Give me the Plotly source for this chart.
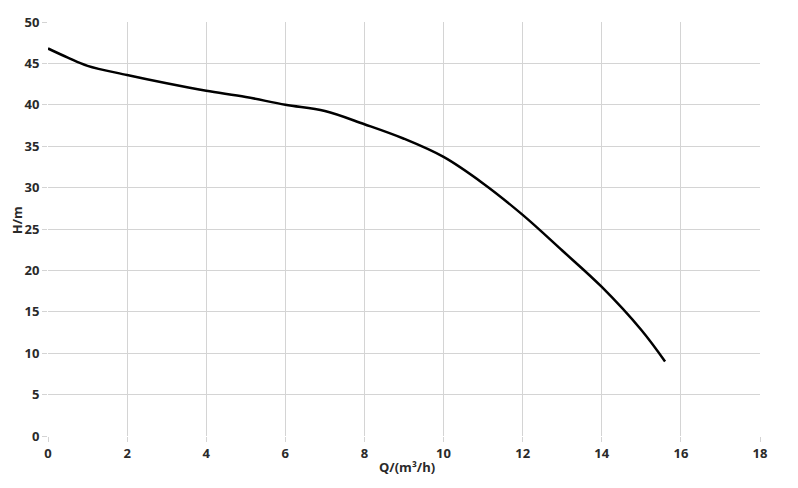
import plotly.graph_objects as go

q = [0, 0.5, 1, 2, 3, 4, 5, 6, 7, 8, 9, 10, 11, 12, 13, 14, 15, 15.6]
h = [46.8, 45.7, 44.7, 43.6, 42.6, 41.7, 40.95, 40.0, 39.25, 37.65, 35.9, 33.7, 30.5, 26.7, 22.4, 18.0, 12.8, 9.0]

x_ticks = [0, 2, 4, 6, 8, 10, 12, 14, 16, 18]
y_ticks = [0, 5, 10, 15, 20, 25, 30, 35, 40, 45, 50]

grid = "#d4d4d4"
font_col = "#2a2a2a"
ff = "Open Sans, Arial, sans-serif"

fig = go.Figure()
fig.add_trace(go.Scatter(x=q, y=h, mode="lines",
                         line=dict(color="black", width=2.5, shape="spline", smoothing=1.0),
                         showlegend=False, hoverinfo="skip"))

fig.update_layout(
    width=798, height=488,
    margin=dict(l=40, r=46, t=14, b=60, autoexpand=False),
    paper_bgcolor="white", plot_bgcolor="white",
    font=dict(family=ff, size=12, color=font_col),
)
fig.update_xaxes(
    range=[0, 18], tickvals=x_ticks, ticktext=[str(v) for v in x_ticks],
    showgrid=True, gridcolor=grid, gridwidth=1,
    ticks="outside", ticklen=5, tickcolor=grid, tickwidth=1,
    showline=False, zeroline=False, automargin=False,
    tickfont=dict(size=13, color=font_col, family=ff, weight="bold"),
)
fig.update_yaxes(
    range=[0, 50], tickvals=y_ticks, ticktext=[str(v) for v in y_ticks],
    showgrid=True, gridcolor=grid, gridwidth=1,
    ticks="outside", ticklen=5, tickcolor=grid, tickwidth=1,
    showline=False, zeroline=False, automargin=False,
    tickfont=dict(size=13, color=font_col, family=ff, weight="bold"),
)
fig.add_annotation(text="<b>Q/(m³/h)</b>", xref="paper", yref="paper", x=0.504, y=0,
                   yshift=-31, xanchor="center", yanchor="middle", showarrow=False,
                   font=dict(size=13, color=font_col, family=ff))
fig.add_annotation(text="<b>H/m</b>", xref="paper", yref="paper", x=0, y=0.521,
                   xshift=-31, xanchor="center", yanchor="middle", showarrow=False, textangle=-90,
                   borderpad=0, font=dict(size=13, color=font_col, family=ff))
fig.write_html("out.html")
